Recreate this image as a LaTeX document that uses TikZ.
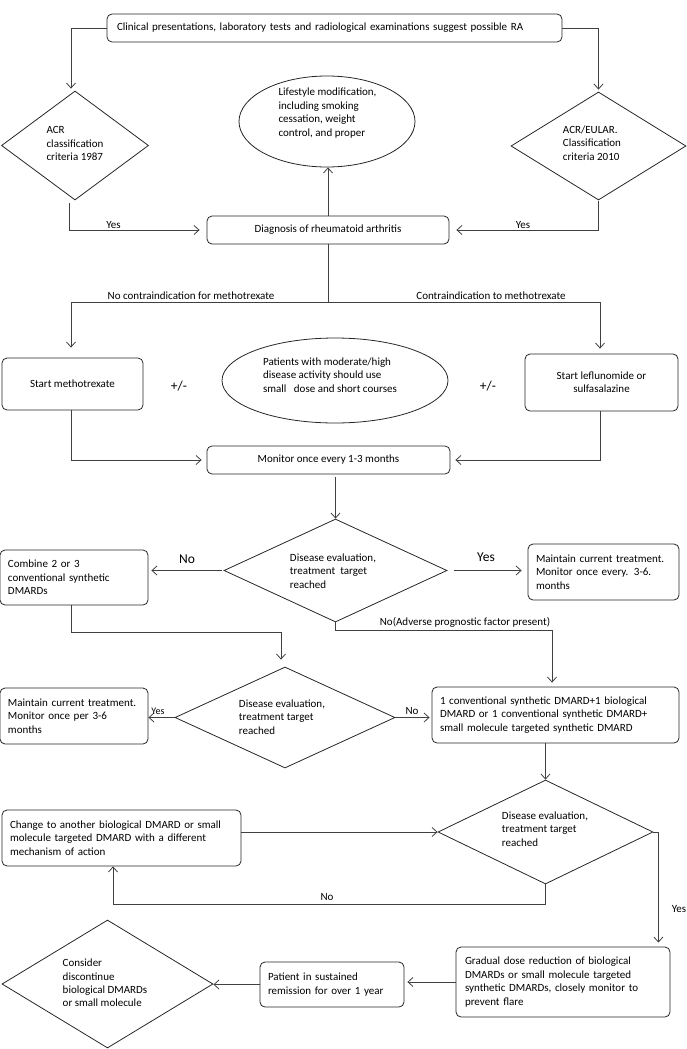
\documentclass[tikz,border=0pt]{standalone}
\usepackage{fontspec}
\setmainfont{Carlito}
\usetikzlibrary{shapes.geometric,arrows.meta,calc}
\newcommand\bodyfs{\fontsize{11pt}{13.4pt}\selectfont}
\newcommand\bigfs{\fontsize{13.5pt}{15pt}\selectfont}
\tikzset{
  box/.style={draw=black!85, rounded corners=5pt, line width=0.8pt, inner sep=0pt, font=\bodyfs},
  boxl/.style={box, align=left, inner xsep=8pt},
  boxc/.style={box, align=center},
  dia/.style={draw=black!85, diamond, line width=0.8pt, inner sep=0pt},
  ell/.style={draw=black!85, ellipse, line width=0.8pt, inner sep=0pt},
  txt/.style={align=left, inner sep=0pt, font=\bodyfs},
  lbl/.style={inner sep=0pt, font=\bodyfs},
  biglbl/.style={inner sep=0pt, font=\bigfs},
  conn/.style={draw=black!75, line width=0.8pt},
  arr/.style={conn, -{Straight Barb[length=5pt,width=9pt]}}
}
\begin{document}
\begin{tikzpicture}[x=1pt,y=-1pt]
\useasboundingbox (0,0) rectangle (687,1049);

% top part
\node[boxl, inner xsep=10pt, minimum width=455pt, minimum height=28pt, text width=435pt] (top) at (334.5,28) {Clinical presentations, laboratory tests and radiological examinations suggest possible RA};
\node[dia, minimum width=147pt, minimum height=109pt] (d1) at (75,145.5) {};
\node[txt] (d1t) at (75,143.5) {ACR\\classification\\criteria 1987};
\node[dia, minimum width=175pt, minimum height=108pt] (d2) at (598.5,146) {};
\node[txt] (d2t) at (592,143) {ACR/EULAR.\\Classification\\criteria 2010};
\node[ell, minimum width=176pt, minimum height=91pt] (ell1) at (327,121.5) {};
\node[txt] (ell1t) at (327.5,113) {Lifestyle modification,\\including smoking\\cessation, weight\\control, and proper};
\node[boxc, minimum width=242pt, minimum height=28pt] (diag) at (328,230) {Diagnosis of rheumatoid arthritis};

\draw[arr] (top.west) -| ([xshift=-4pt,yshift=2pt]d1.north);
\draw[arr] (top.east) -| ([yshift=2pt]d2.north);
\draw[arr] ([xshift=-6pt,yshift=-3pt]d1.south) |- ([xshift=-7pt]diag.west);
\draw[arr] ([yshift=-1pt]d2.south) |- ([xshift=7pt]diag.east);
\node[lbl] (yes1) at (113.5,225) {Yes};
\node[lbl] (yes2) at (523,225) {Yes};
\draw[arr] (diag.north) -- (diag.north |- ell1.south);

% branch
\coordinate (split) at (328,302);
\draw[conn] (diag.south) -- (split);
\node[boxc, minimum width=141pt, minimum height=52pt] (startM) at (72.5,384) {Start methotrexate};
\node[boxc, minimum width=153pt, minimum height=57pt] (startL) at (601.5,382.5) {Start leflunomide or\\sulfasalazine};
\draw[arr] (split) -| ([xshift=-1.5pt,yshift=10pt]startM.north);
\draw[arr] (split) -| ([xshift=-1.5pt,yshift=5pt]startL.north);
\node[lbl] (noci) at (191,295.5) {No contraindication for methotrexate};
\node[lbl] (ci) at (491,295.5) {Contraindication to methotrexate};
\node[biglbl] (pm1) at (179,386) {+/-};
\node[biglbl] (pm2) at (488,386) {+/-};
\node[ell, minimum width=226pt, minimum height=85pt] (ell2) at (335,380.5) {};
\node[txt] (ell2t) at (330,375) {Patients with moderate/high\\disease activity should use\\small\ \ \ dose and short courses};

\node[boxc, minimum width=243pt, minimum height=28pt] (monitor) at (328.5,460) {Monitor once every 1-3 months};
\draw[arr] ([xshift=-1.5pt]startM.south) |- ([xshift=-5pt]monitor.west);
\draw[arr] ([xshift=-1.5pt]startL.south) |- ([xshift=5pt]monitor.east);

% first evaluation
\node[dia, minimum width=223pt, minimum height=103pt] (E1) at (335.5,570.5) {};
\node[txt] (E1t) at (333,571) {Disease evaluation,\\treatment\ \ target\\reached};
\draw[arr] ($(E1.north |- monitor.south)+(0,3)$) -- (E1.north);
\node[boxl, minimum width=148pt, minimum height=55pt, text width=132pt] (combine) at (74,577.5) {Combine 2 or 3\\conventional synthetic\\DMARDs};
\node[boxl, minimum width=151pt, minimum height=56pt, text width=135pt] (maint1) at (603.5,572) {Maintain current treatment.\\Monitor once every. 3-6.\\months};
\draw[arr, shorten <=2pt, shorten >=3pt] (E1.west) -- (E1.west -| combine.east);
\draw[arr, shorten <=7pt, shorten >=6pt] (E1.east) -- (E1.east -| maint1.west);
\node[biglbl] (no1) at (187,559) {No};
\node[biglbl] (yes3) at (486,557) {Yes};

% second evaluation
\node[dia, minimum width=220pt, minimum height=101pt] (E2) at (285,717.5) {};
\node[txt] (E2t) at (282,717) {Disease evaluation,\\treatment target\\reached};
\node[boxl, minimum width=148pt, minimum height=56pt, text width=132pt] (maint2) at (74,716) {Maintain current treatment.\\Monitor once per 3-6\\months};
\node[boxl, minimum width=247pt, minimum height=56pt, text width=231pt] (conv) at (555.5,715) {1 conventional synthetic DMARD+1 biological\\DMARD or 1 conventional synthetic DMARD+\\small molecule targeted synthetic DMARD};
\draw[arr] ([xshift=-3pt]combine.south) -- ++(0,27) -| ([xshift=-4pt,yshift=7pt]E2.north);
\draw[arr] (E1.south) -- ++(0,8) -| ([xshift=-3.5pt,yshift=4pt]conv.north);
\node[lbl] (adv) at (465,622.5) {No(Adverse prognostic factor present)};
\draw[arr] (E2.west) -- (E2.west -| maint2.east);
\draw[arr, shorten >=2pt] (E2.east) -- (E2.east -| conv.west);
\node[lbl, font=\fontsize{10pt}{12pt}\selectfont] (yes4) at (158,711) {Yes};
\node[lbl] (no2) at (412,711) {No};

% third evaluation
\node[dia, minimum width=215pt, minimum height=104pt] (E3) at (545.5,832) {};
\node[txt] (E3t) at (545,829) {Disease evaluation,\\treatment target\\reached};
\draw[arr] (E3.north |- conv.south) -- (E3.north);
\node[boxl, minimum width=239pt, minimum height=56pt, text width=223pt] (change) at (121.5,838) {Change to another biological DMARD or small\\molecule targeted DMARD with a different\\mechanism of action};
\draw[arr] (change.east |- E3.west) -- (E3.west);
\draw[arr] (E3.south) -- ++(0,20) -| ([xshift=-8.5pt]change.south);
\node[lbl] (no3) at (327,897) {No};

% final row
\node[boxl, inner xsep=9pt, minimum width=214pt, minimum height=70pt, text width=196pt] (gradual) at (563,982) {Gradual dose reduction of biological\\DMARDs or small molecule targeted\\synthetic DMARDs, closely monitor to\\prevent flare};
\node[boxl, minimum width=144pt, minimum height=45pt, text width=128pt] (patient) at (332,984.5) {Patient in sustained\\remission for over 1 year};
\node[dia, minimum width=211pt, minimum height=128pt] (D4) at (107.5,984) {};
\node[txt] (D4t) at (105,983) {Consider\\discontinue\\biological DMARDs\\or small molecule};
\draw[arr] (E3.east) -- ++(5,0) coordinate (k) -- ($(k |- gradual.north)+(0,-4)$);
\node[lbl] (yes5) at (679,909) {Yes};
\draw[arr, shorten >=3pt] (gradual.west) -- (gradual.west -| patient.east);
\draw[arr] (patient.west) -- (patient.west -| D4.east);
\end{tikzpicture}
\end{document}
